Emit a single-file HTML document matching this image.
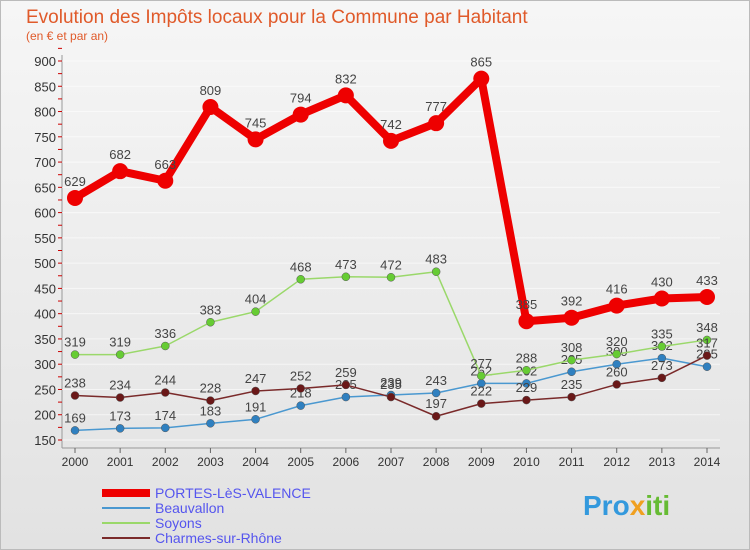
<!DOCTYPE html>
<html><head><meta charset="utf-8"><style>
body{margin:0;width:750px;height:550px;overflow:hidden;font-family:"Liberation Sans",sans-serif}
#bg{position:absolute;left:0;top:0;width:748px;height:548px;border:1px solid #bbb;background:linear-gradient(180deg,#f6f6f6 0%,#e2e2e2 100%)}
</style></head><body>
<div id="bg"></div>
<svg id="c" width="750" height="550" style="position:absolute;left:0;top:0">
<text x="26" y="23" font-size="19" fill="#e05a2a">Evolution des Impôts locaux pour la Commune par Habitant</text>
<text x="26" y="40" font-size="12" fill="#e05a2a">(en € et par an)</text>
<text x="583" y="515" font-size="28" font-weight="bold"><tspan fill="#3399dd">Pro</tspan><tspan fill="#f0a020">x</tspan><tspan fill="#66bb33">iti</tspan></text>
</svg>
<script>
const years=[2000,2001,2002,2003,2004,2005,2006,2007,2008,2009,2010,2011,2012,2013,2014];
const yTicks=[150,200,250,300,350,400,450,500,550,600,650,700,750,800,850,900];
const portes=[629,682,663,809,745,794,832,742,777,865,385,392,416,430,433];
const beauvallon=[169,173,174,183,191,218,235,239,243,262,262,285,300,312,295];
const soyons=[319,319,336,383,404,468,473,472,483,277,288,308,320,335,348];
const charmes=[238,234,244,228,247,252,259,235,197,222,229,235,260,273,317];
const names=["PORTES-LèS-VALENCE","Beauvallon","Soyons","Charmes-sur-Rhône"];
const svg=document.getElementById('c');const NS="http://www.w3.org/2000/svg";
const X=i=>75+i*(707-75)/14;
const Y=v=>440-(v-150)*(440-61)/750;
function mk(t,a,p){const e=document.createElementNS(NS,t);for(const k in a)e.setAttribute(k,a[k]);(p||svg).appendChild(e);return e;}
mk('line',{x1:62,y1:55,x2:62,y2:448,stroke:'#999'});
mk('line',{x1:62,y1:448,x2:720,y2:448,stroke:'#999'});
for(const t of yTicks){
 const g=mk('line',{x1:62,y1:Y(t),x2:720,y2:Y(t),stroke:'#ffffff','stroke-width':1,opacity:0.6});
 
 
 mk('line',{x1:58,y1:Y(t),x2:62,y2:Y(t),stroke:'#c00'});
 mk('line',{x1:58,y1:Y(t+25),x2:62,y2:Y(t+25),stroke:'#c00'});
 const l=mk('text',{x:56,y:Y(t)+5,'font-size':13,'text-anchor':'end',fill:'#333'});
 l.textContent=t;
 
 
}
years.forEach((y,i)=>{
 mk('line',{x1:X(i),y1:448,x2:X(i),y2:453,stroke:'#666'});
 const l=mk('text',{x:X(i),y:466,'font-size':12,'text-anchor':'middle',fill:'#333'});
 l.textContent=y;
 
 
});
const series=[[beauvallon,'#4a98d0',1.5,4,'#2f80c0'],[soyons,'#9ad86a',1.5,4,'#66cc33'],[charmes,'#7a2a2a',1.5,4,'#6a1818'],[portes,'#ee0000',8,8,'#ee0000']];
const snames=['beauvallon','soyons','charmes','portes'];
series.forEach(([d,col,w,r,dc],si)=>{
 const p=mk('polyline',{points:d.map((v,i)=>X(i)+','+Y(v)).join(' '),fill:'none',stroke:col,'stroke-width':w,'stroke-linejoin':'round'});
 
 
 d.forEach((v,i)=>{
  const c=mk('circle',{cx:X(i),cy:Y(v),r:r,fill:dc,stroke:si==3?'none':'#555','stroke-width':0.5});
  
  
  const t=mk('text',{x:X(i),y:Y(v)-(si==3?12:8),'font-size':13,'text-anchor':'middle',fill:'#444'});
  t.textContent=v;
  
  
 });
});
const leg=[['#ee0000',8],['#4a98d0',2],['#9ad86a',2],['#7a2a2a',2]];
leg.forEach(([c,w],i)=>{
 const y=493+i*15;
 const g=mk('g',{});
 
 
 mk('line',{x1:102,y1:y,x2:150,y2:y,stroke:c,'stroke-width':w},g);
 const t=mk('text',{x:155,y:y+5,'font-size':14,fill:'#5555ee'},g);
 t.textContent=names[i];
});
</script>
</body></html>
